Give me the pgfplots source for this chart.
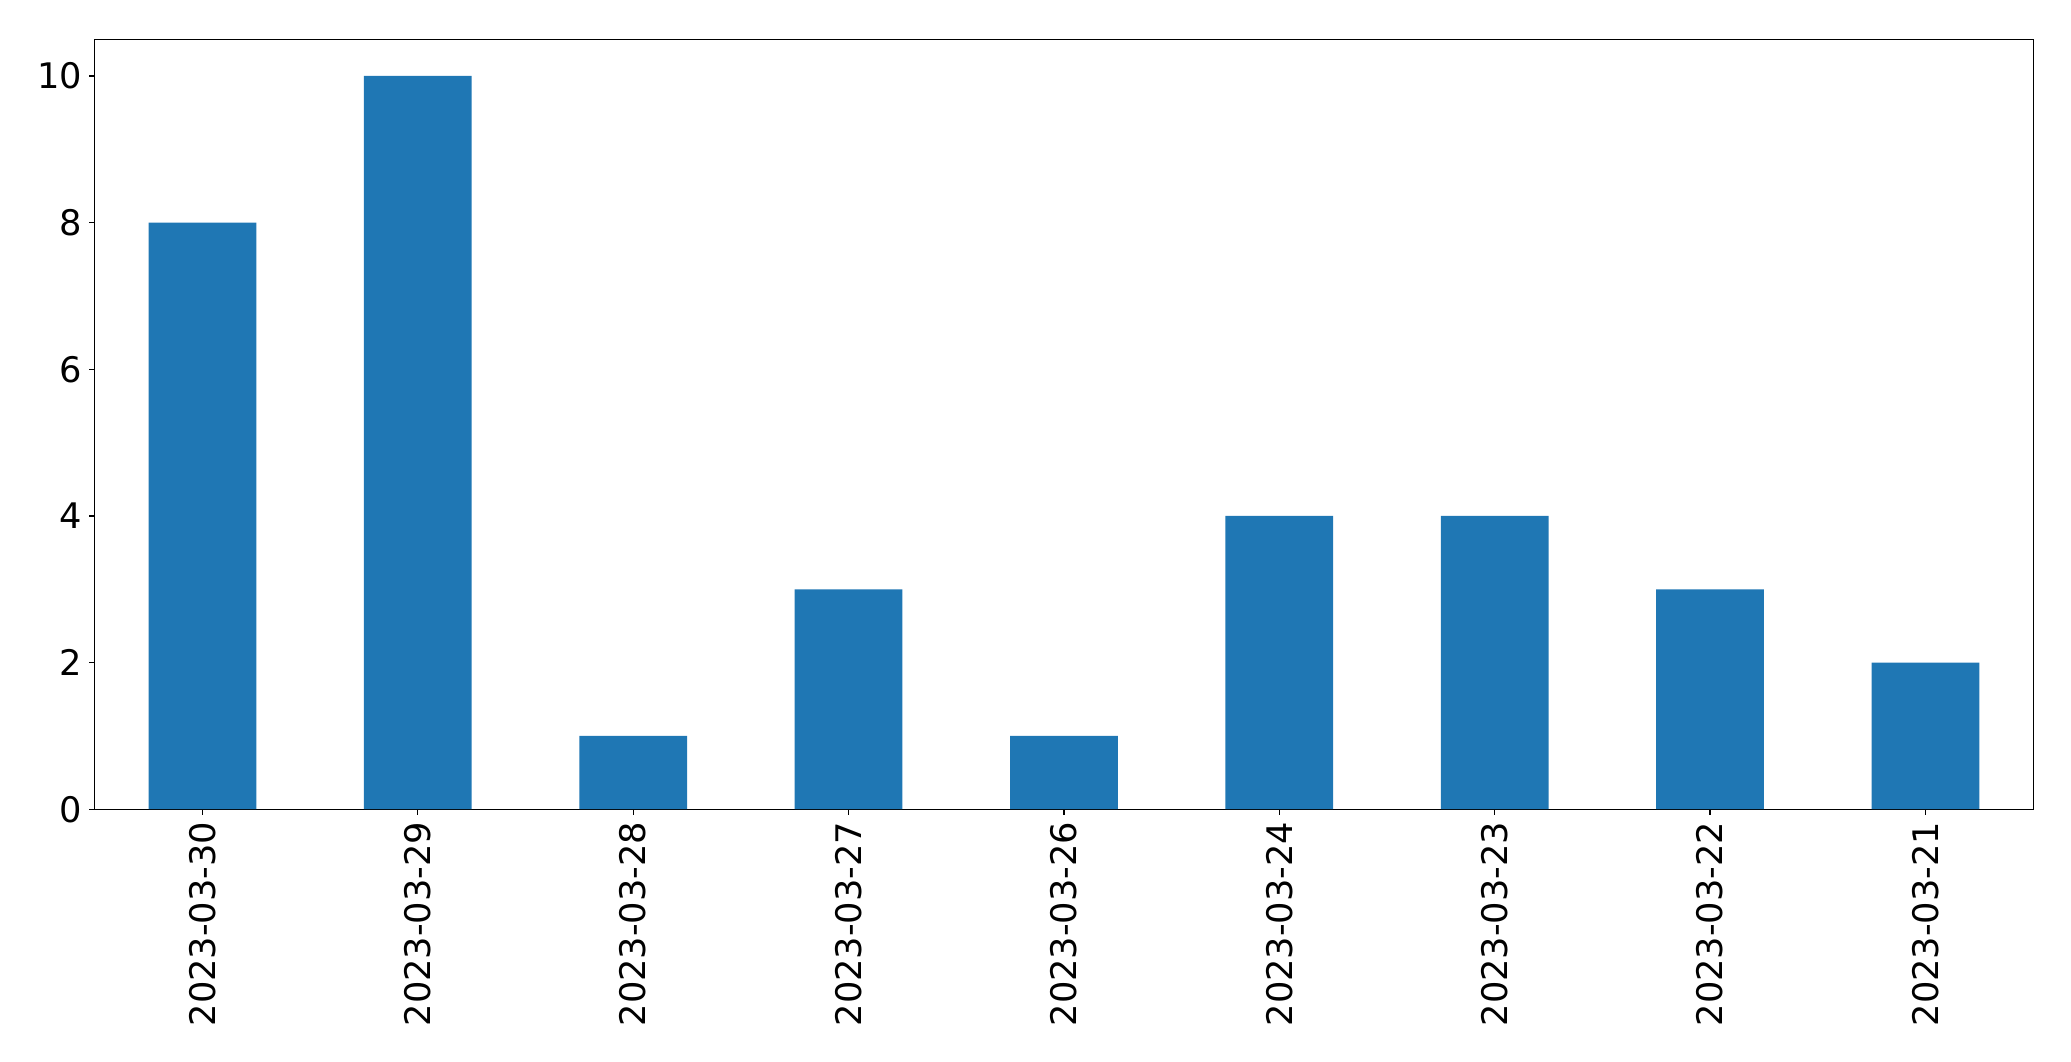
\documentclass[border=0pt]{standalone}
\usepackage{fontspec}
\setmainfont{DejaVu Sans}
\usepackage{pgfplots}
\pgfplotsset{compat=1.18}
\definecolor{barblue}{HTML}{1F77B4}
\begin{document}
\begin{tikzpicture}
\begin{axis}[
  at={(0,0)}, anchor=south west,
  scale only axis,
  width=968.9pt, height=384.85pt,
  xmin=-0.5, xmax=8.5, ymin=0, ymax=10.5,
  xtick={0,1,2,3,4,5,6,7,8},
  xticklabels={2023-03-30,2023-03-29,2023-03-28,2023-03-27,2023-03-26,2023-03-24,2023-03-23,2023-03-22,2023-03-21},
  ytick={0,2,4,6,8,10},
  xticklabel style={rotate=90, anchor=east, font=\fontsize{17.6}{21}\selectfont},
  yticklabel style={font=\fontsize{17.6}{21}\selectfont},
  /pgf/number format/assume math mode=true,
  tick align=outside, tick pos=left,
  major tick length=2.7pt,
  every tick/.style={black, line width=0.6pt},
  axis line style={black, line width=0.6pt},
]
\addplot[ybar, bar width=0.5, fill=barblue, draw=none, bar shift=0pt] coordinates {
 (0,8) (1,10) (2,1) (3,3) (4,1) (5,4) (6,4) (7,3) (8,2)
};
\end{axis}
\pgfresetboundingbox
\useasboundingbox (-47.35pt,-126pt) rectangle (987.85pt,404.5pt);
\end{tikzpicture}
\end{document}
